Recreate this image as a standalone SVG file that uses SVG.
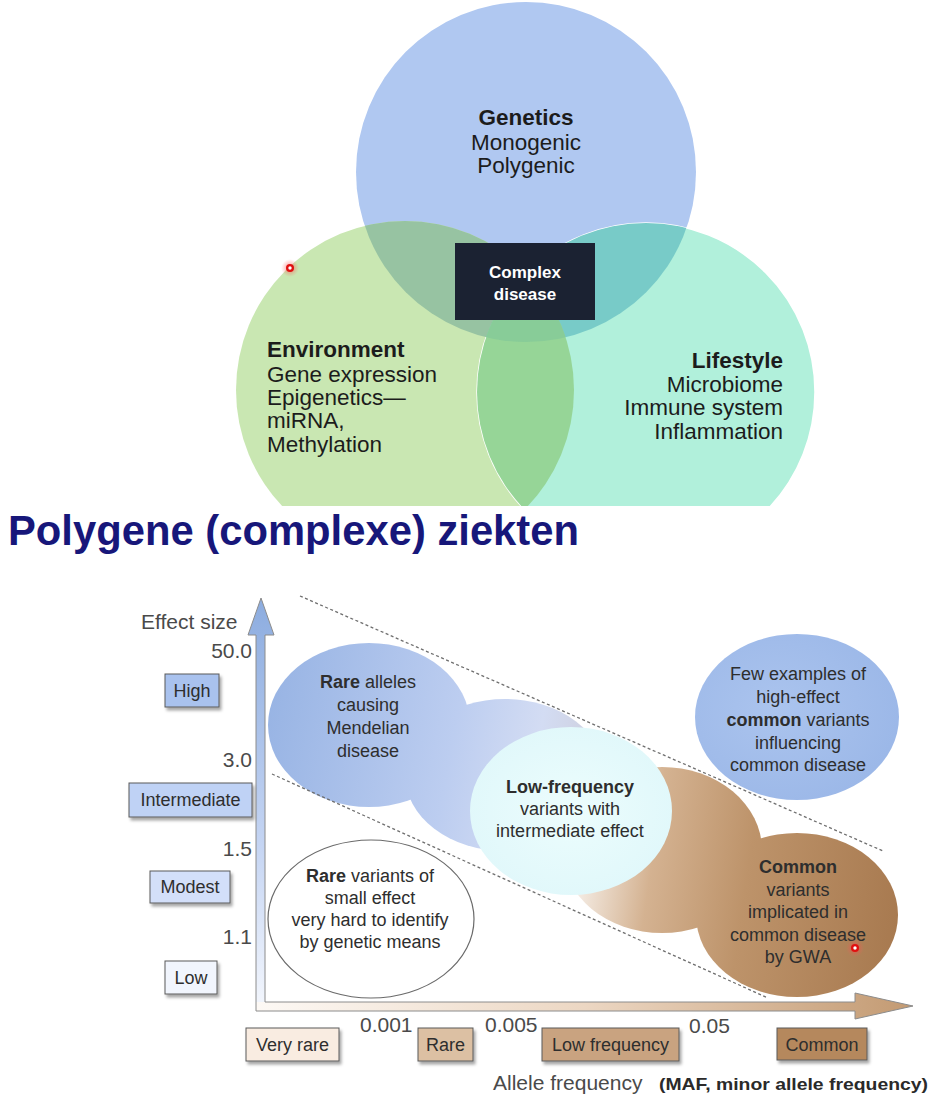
<svg xmlns="http://www.w3.org/2000/svg" width="948" height="1100" viewBox="0 0 948 1100">
<style>
text{font-family:"Liberation Sans",Arial,sans-serif}
.v{font-size:22.5px;fill:#1c1c1c}
.b{font-weight:bold}
.ax{font-size:21px;fill:#4a4a4a}
.bt{font-size:18px;fill:#2e2e2e;text-anchor:middle}
.box{stroke:#5a5a5a;stroke-width:1}
.dash{stroke:#6f6f6f;stroke-width:1.3;stroke-dasharray:3 2.5;fill:none}
</style>
<defs>
<clipPath id="top"><rect x="0" y="0" width="948" height="506"/></clipPath>
<clipPath id="cB"><circle cx="526" cy="172" r="170"/></clipPath>
<clipPath id="cG"><circle cx="405" cy="390" r="169"/></clipPath>
<linearGradient id="gV" x1="0" y1="0" x2="0" y2="1">
<stop offset="0" stop-color="#8cacdf"/><stop offset="0.6" stop-color="#c5d5f3"/><stop offset="1" stop-color="#f4f7fd"/>
</linearGradient>
<linearGradient id="gH" x1="0" y1="0" x2="1" y2="0">
<stop offset="0" stop-color="#fdf9f5"/><stop offset="0.5" stop-color="#ecd7c3"/><stop offset="1" stop-color="#c39a72"/>
</linearGradient>
<linearGradient id="gBlue" gradientUnits="userSpaceOnUse" x1="268" y1="700" x2="605" y2="760">
<stop offset="0" stop-color="#98b4e4"/><stop offset="0.55" stop-color="#bccdf0"/><stop offset="0.8" stop-color="#d3dcf3"/><stop offset="1" stop-color="#cdcdda"/>
</linearGradient>
<radialGradient id="gCy" cx="0.5" cy="0.5" r="0.6">
<stop offset="0" stop-color="#ecfdfd"/><stop offset="1" stop-color="#dff7fa"/>
</radialGradient>
<linearGradient id="gBr" gradientUnits="userSpaceOnUse" x1="560" y1="850" x2="900" y2="900">
<stop offset="0" stop-color="#ffffff"/><stop offset="0.27" stop-color="#d4b291"/><stop offset="0.55" stop-color="#bd936a"/><stop offset="1" stop-color="#a87a50"/>
</linearGradient>
<radialGradient id="gFew" cx="0.4" cy="0.45" r="0.6">
<stop offset="0" stop-color="#abc4ee"/><stop offset="1" stop-color="#9cb8e8"/>
</radialGradient>
<filter id="sh" x="-20%" y="-20%" width="150%" height="170%">
<feDropShadow dx="2" dy="3" stdDeviation="1.6" flood-color="#000" flood-opacity="0.35"/>
</filter>
<radialGradient id="glow"><stop offset="0" stop-color="#ff3030" stop-opacity="0.6"/><stop offset="1" stop-color="#ff6060" stop-opacity="0"/></radialGradient>
</defs>
<rect width="948" height="1100" fill="#ffffff"/>

<g id="venn" clip-path="url(#top)">
  <g id="genetics">
    <circle cx="526" cy="172" r="170" fill="#b0c8f1"/>
  </g>
  <g id="environment">
    <circle cx="405" cy="390" r="169" fill="#c9e7b2"/>
  </g>
  <g id="lifestyle">
    <circle cx="646" cy="392" r="169" fill="#b1f0db" stroke="#ffffff" stroke-width="1.5"/>
  </g>
  <g id="overlaps">
    <circle cx="405" cy="390" r="169" fill="#97c3a2" clip-path="url(#cB)"/>
    <circle cx="646" cy="392" r="169" fill="#78cbc8" clip-path="url(#cB)"/>
    <circle cx="646" cy="392" r="169" fill="#96d597" clip-path="url(#cG)"/>
    <g clip-path="url(#cB)"><circle cx="646" cy="392" r="169" fill="#88cc98" clip-path="url(#cG)"/></g>
  </g>
  <g id="t-genetics" text-anchor="middle">
    <text class="v b" x="526" y="125">Genetics</text>
    <text class="v" x="526" y="150">Monogenic</text>
    <text class="v" x="526" y="173">Polygenic</text>
  </g>
  <g id="t-environment">
    <text class="v b" x="267" y="357">Environment</text>
    <text class="v" x="267" y="382">Gene expression</text>
    <text class="v" x="267" y="405">Epigenetics—</text>
    <text class="v" x="267" y="428">miRNA,</text>
    <text class="v" x="267" y="452">Methylation</text>
  </g>
  <g id="t-lifestyle" text-anchor="end">
    <text class="v b" x="783" y="368">Lifestyle</text>
    <text class="v" x="783" y="392">Microbiome</text>
    <text class="v" x="783" y="415">Immune system</text>
    <text class="v" x="783" y="439">Inflammation</text>
  </g>
  <g id="complex-disease">
    <rect x="455" y="243" width="140" height="77" fill="#1b2232"/>
    <text x="525" y="278" font-size="17" font-weight="bold" fill="#ffffff" text-anchor="middle">Complex</text>
    <text x="525" y="300" font-size="17" font-weight="bold" fill="#ffffff" text-anchor="middle">disease</text>
  </g>
</g>

<g id="title">
  <text x="8" y="545" font-size="42" font-weight="bold" fill="#17177a" textLength="571" lengthAdjust="spacingAndGlyphs">Polygene (complexe) ziekten</text>
</g>

<g id="bubbles">
  <ellipse cx="505" cy="775" rx="100" ry="76" fill="url(#gBlue)"/>
  <ellipse cx="369" cy="725" rx="101" ry="82" fill="url(#gBlue)"/>
  <ellipse cx="662" cy="850" rx="100" ry="83" fill="url(#gBr)"/>
  <ellipse cx="797" cy="915" rx="101" ry="82" fill="url(#gBr)"/>
  <ellipse cx="571" cy="811" rx="101" ry="84" fill="url(#gCy)"/>
  <ellipse cx="797" cy="717" rx="102" ry="83" fill="url(#gFew)"/>
  <ellipse cx="371" cy="919" rx="103" ry="79" fill="#ffffff" stroke="#6a6a6a" stroke-width="1.2"/>
</g>

<g id="connectors">
  <line class="dash" x1="300" y1="596" x2="883" y2="851"/>
  <line class="dash" x1="272" y1="774" x2="768" y2="998"/>
  <polygon points="248,635 261,598 274,635 265,635 265,1011 256,1011 256,635" fill="url(#gV)"/>
  <polygon points="256,1002 855,1002 855,993 913,1006 855,1019 855,1011 256,1011" fill="url(#gH)"/>
  <path d="M256,635 L248,635 L261,598 L274,635 L265,635 L265,1002 L855,1002 L855,993 L913,1006 L855,1019 L855,1011 L256,1011 Z" fill="none" stroke="#8c8c8c" stroke-width="1"/>
</g>

<g id="t-rare-alleles">
  <text class="bt" x="368" y="688"><tspan font-weight="bold">Rare</tspan> alleles</text>
  <text class="bt" x="368" y="711">causing</text>
  <text class="bt" x="368" y="734">Mendelian</text>
  <text class="bt" x="368" y="757">disease</text>
</g>
<g id="t-low-frequency">
  <text class="bt b" x="570" y="793">Low-frequency</text>
  <text class="bt" x="570" y="815">variants with</text>
  <text class="bt" x="570" y="837">intermediate effect</text>
</g>
<g id="t-few">
  <text class="bt" x="798" y="680">Few examples of</text>
  <text class="bt" x="798" y="703">high-effect</text>
  <text class="bt" x="798" y="726"><tspan font-weight="bold">common</tspan> variants</text>
  <text class="bt" x="798" y="749">influencing</text>
  <text class="bt" x="798" y="771">common disease</text>
</g>
<g id="t-common">
  <text class="bt b" x="798" y="873">Common</text>
  <text class="bt" x="798" y="896">variants</text>
  <text class="bt" x="798" y="918">implicated in</text>
  <text class="bt" x="798" y="941">common disease</text>
  <text class="bt" x="798" y="963">by GWA</text>
</g>
<g id="t-rare-variants">
  <text class="bt" x="370" y="882"><tspan font-weight="bold">Rare</tspan> variants of</text>
  <text class="bt" x="370" y="904">small effect</text>
  <text class="bt" x="370" y="926">very hard to identify</text>
  <text class="bt" x="370" y="948">by genetic means</text>
</g>

<g id="y-axis-labels">
  <text class="ax" x="141" y="629">Effect size</text>
  <text class="ax" x="252" y="658" text-anchor="end">50.0</text>
  <text class="ax" x="252" y="767" text-anchor="end">3.0</text>
  <text class="ax" x="252" y="856" text-anchor="end">1.5</text>
  <text class="ax" x="252" y="944" text-anchor="end">1.1</text>
</g>
<g id="box-high"><rect class="box" x="165" y="674" width="54" height="33" fill="#a9c2ee" filter="url(#sh)"/><text class="bt" x="192" y="697">High</text></g>
<g id="box-intermediate"><rect class="box" x="129" y="783" width="123" height="34" fill="#bfd2f5" filter="url(#sh)"/><text class="bt" x="190.5" y="806">Intermediate</text></g>
<g id="box-modest"><rect class="box" x="150" y="871" width="80" height="32" fill="#d3dff9" filter="url(#sh)"/><text class="bt" x="190" y="893">Modest</text></g>
<g id="box-low"><rect class="box" x="165" y="961" width="52" height="33" fill="#f1f5fd" filter="url(#sh)"/><text class="bt" x="191" y="984">Low</text></g>

<g id="x-axis-labels">
  <text class="ax" x="360" y="1032">0.001</text>
  <text class="ax" x="485" y="1032">0.005</text>
  <text class="ax" x="689" y="1033">0.05</text>
  <text class="ax" x="493" y="1090" font-size="21.5">Allele frequency</text>
  <text x="659" y="1090" font-size="17" font-weight="bold" fill="#2a2a2a" textLength="269" lengthAdjust="spacingAndGlyphs">(MAF, minor allele frequency)</text>
</g>
<g id="box-very-rare"><rect class="box" x="246" y="1028" width="93" height="33" fill="#f9ece1" filter="url(#sh)"/><text class="bt" x="292.5" y="1051">Very rare</text></g>
<g id="box-rare"><rect class="box" x="418" y="1028" width="55" height="33" fill="#dcc0a3" filter="url(#sh)"/><text class="bt" x="445.5" y="1051">Rare</text></g>
<g id="box-low-frequency"><rect class="box" x="542" y="1028" width="137" height="33" fill="#c9a380" filter="url(#sh)"/><text class="bt" x="610.5" y="1051">Low frequency</text></g>
<g id="box-common"><rect class="box" x="777" y="1028" width="90" height="32" fill="#b5885d" filter="url(#sh)"/><text class="bt" x="822" y="1051">Common</text></g>

<g id="pointers">
  <circle cx="290" cy="268" r="9" fill="url(#glow)"/>
  <circle cx="290" cy="268" r="4" fill="#e01010"/>
  <circle cx="290" cy="268" r="1.7" fill="#ffffff"/>
  <circle cx="855" cy="948" r="9" fill="url(#glow)"/>
  <circle cx="855" cy="948" r="4" fill="#e01010"/>
  <circle cx="855" cy="948" r="1.7" fill="#ffffff"/>
</g>
</svg>
